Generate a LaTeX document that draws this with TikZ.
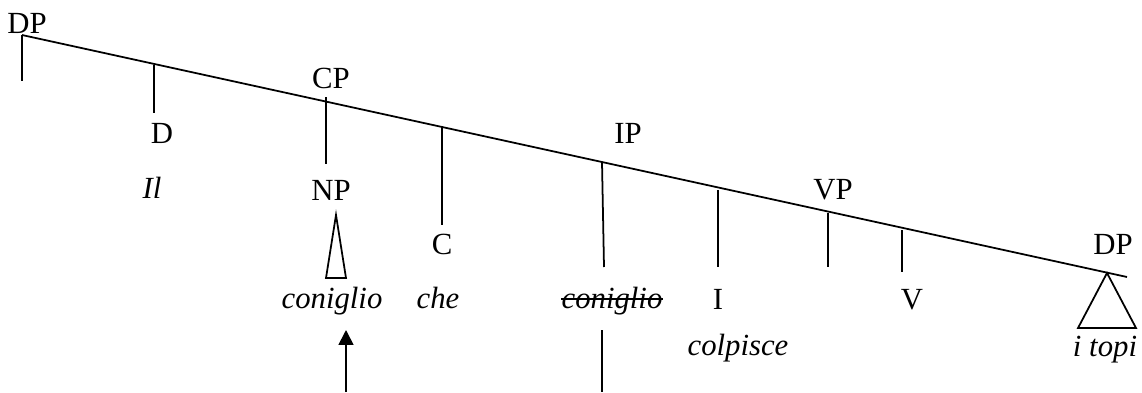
\documentclass[tikz,border=0pt]{standalone}
\usepackage{fontspec}
\setmainfont{Liberation Serif}
\usepackage{tikz}
\usetikzlibrary{arrows.meta,calc}

\begin{document}
\begin{tikzpicture}[
  x=0.02cm,y=-0.02cm,
  font=\fontsize{17.5}{20}\selectfont,
  lbl/.style={anchor=base,inner sep=0pt},
  word/.style={lbl,font=\fontsize{17.5}{20}\selectfont\itshape},
  branch/.style={line width=1pt},
]
\useasboundingbox (0,0) rectangle (1142,392);

% spine
\coordinate (root) at (22,35);
\coordinate (tail) at (1127,277);
\draw[branch] (root) -- (tail);

% labels
\node[lbl] (dp1) at (27,33) {DP};
\node[lbl] (d) at (162,143) {D};
\node[word] (il) at (152,198) {Il};
\node[lbl] (cp) at (331,88) {CP};
\node[lbl] (np) at (331,200) {NP};
\node[lbl] (c) at (442,254) {C};
\node[lbl] (ip) at (628,143) {IP};
\node[word] (con1) at (332,308) {coniglio};
\node[word] (che) at (438,308) {che};
\node[word] (con2) at (612,308) {coniglio};
\node[lbl] (i) at (718,309) {I};
\node[word] (colp) at (738,355) {colpisce};
\node[lbl] (vp) at (833,199) {VP};
\node[lbl] (v) at (912,309) {V};
\node[lbl] (dp2) at (1113,254) {DP};
\node[word] (topi) at (1105,356) {i topi};

% branches off the spine
\coordinate (b-dp) at (22,81);
\coordinate (t-d) at (154,65);  \coordinate (b-d) at (154,113);
\coordinate (t-cp) at (326,97); \coordinate (b-cp) at (326,164);
\coordinate (t-c) at (442,127); \coordinate (b-c) at (442,225);
\coordinate (t-ip) at (602,162); \coordinate (b-ip) at (604,267);
\coordinate (t-i) at (718,190); \coordinate (b-i) at (718,267);
\coordinate (t-vp) at (828,213); \coordinate (b-vp) at (828,267);
\coordinate (t-v) at (902,230); \coordinate (b-v) at (902,272);
\draw[branch] (root) -- (b-dp);
\draw[branch] (t-d) -- (b-d);
\draw[branch] (t-cp) -- (b-cp);
\draw[branch] (t-c) -- (b-c);
\draw[branch] (t-ip) -- (b-ip);
\draw[branch] (t-i) -- (b-i);
\draw[branch] (t-vp) -- (b-vp);
\draw[branch] (t-v) -- (b-v);

% triangles
\draw[branch] (336,215) -- (346,278) -- (326,278) -- cycle;
\draw[branch] (1107,273) -- (1136,328) -- (1078,328) -- cycle;

% strike-out on the trace
\draw[branch] ($(con2.base west)+(0,-9)$) -- ($(con2.base east)+(0,-9)$);

% movement
\coordinate (mv-foot) at (346,392);
\coordinate (mv-head) at (346,330);
\draw[branch,-{Triangle[width=8.5pt,length=8.5pt]}] (mv-foot) -- (mv-head);
\coordinate (tr-top) at (602,330);
\coordinate (tr-foot) at (602,392);
\draw[branch] (tr-top) -- (tr-foot);
\end{tikzpicture}
\end{document}
